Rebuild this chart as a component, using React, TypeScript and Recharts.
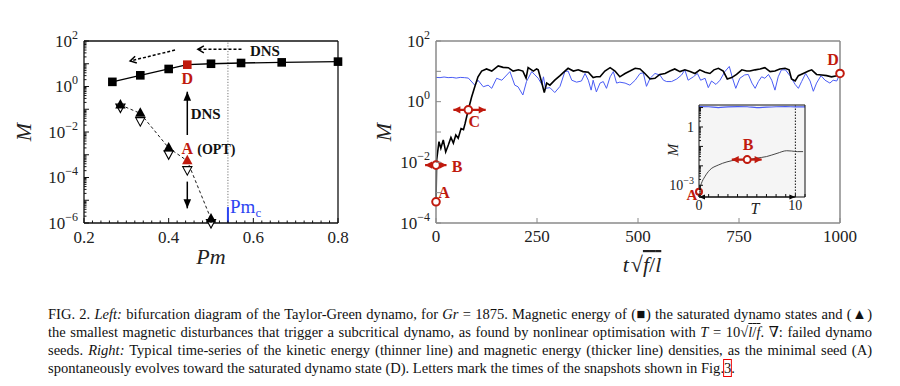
import React from 'react';
import { ComposedChart, Line, Scatter, XAxis, YAxis, ReferenceLine, ReferenceDot, CartesianGrid } from 'recharts';

const RED = '#c01a0e';
const BLUE = '#2c45f2';
const KIN_BLUE = '#4a5cf5';
const SERIF = '"Liberation Serif", "DejaVu Serif", serif';
const LEFT_FRAME = '#111';
const RIGHT_FRAME = '#8a8a8a';

// ---------- Left panel data (bifurcation diagram) ----------
const satPm = [0.267, 0.333, 0.4, 0.444, 0.5, 0.571, 0.667, 0.8];
const satM = [1.6, 3.1, 5.9, 9.1, 10, 10.8, 11.5, 12.4];
const optPm = [0.286, 0.333, 0.4, 0.444, 0.5];
const optM = [0.155, 0.066, 2.0e-3, 5.4e-4, 1.5e-6];
const failPm = [0.286, 0.333, 0.4, 0.444, 0.5];
const failM = [0.118, 0.03, 1.05e-3, 2.1e-4, 1.0e-6];
const SEED_PM = 0.444;
const PM_C = 0.54;

// ---------- Right panel data (time series) ----------
const magT = [
  0, 1.6, 7.4, 12, 18, 24, 30.5, 37, 43, 49,
  55, 62, 68, 72, 80, 88, 96, 104, 113, 125,
  138, 154, 166, 179, 191, 204, 215, 223, 228, 241,
  249, 253, 262, 268, 274, 282, 294, 307, 319, 327,
  340, 352, 364, 377, 389, 397, 406, 418, 431, 443,
  455, 468, 480, 493, 505, 517, 530, 542, 554, 567,
  579, 591, 604, 616, 629, 641, 653, 666, 678, 688,
  699, 711, 721, 732, 744, 757, 769, 777, 790, 802,
  814, 827, 839, 851, 864, 874, 880, 889, 897, 909,
  922, 930, 942, 955, 967, 979, 992, 1000,
];
const magM = [
  5.0e-4, 0.012, 0.048, 0.029, 0.055, 0.022, 0.037, 0.066, 0.043, 0.079,
  0.062, 0.13, 0.12, 0.19, 0.54, 1.4, 3.1, 6.6, 10.2, 12,
  10.2, 15, 13.5, 13.2, 10.2, 11.2, 10.2, 6.0, 13.2, 10.2,
  12, 11.2, 4.1, 2.0, 4.1, 3.5, 5.1, 7.2, 10.2, 12.6,
  10.2, 11.2, 9.8, 9.3, 6.2, 6.6, 6.6, 10.2, 13.2, 10.2,
  6.6, 8.5, 10.2, 12.6, 12, 8.5, 5.6, 5.9, 7.9, 8.5,
  10.2, 12, 9.8, 11.2, 9.8, 8.5, 11.2, 9.3, 8.5, 11.2,
  12.6, 10.2, 5.6, 6.2, 7.9, 11.2, 10.2, 10.2, 11.2, 12,
  13.2, 9.8, 10.2, 12, 12.6, 11.2, 5.6, 4.8, 7.2, 8.5,
  10.2, 11.2, 7.9, 7.6, 7.2, 6.6, 7.2, 8.5,
];
const kinT = [
  0, 10, 20, 30, 40, 50, 60, 70, 80, 96,
  104, 117, 129, 138, 150, 163, 183, 195, 203, 215,
  224, 237, 245, 253, 262, 266, 271, 282, 294, 307,
  319, 327, 336, 348, 360, 369, 377, 384, 389, 397,
  406, 414, 422, 431, 439, 447, 455, 468, 480, 493,
  505, 513, 521, 530, 542, 554, 563, 571, 583, 596,
  608, 616, 624, 637, 647, 655, 666, 674, 682, 693,
  703, 715, 726, 734, 742, 752, 764, 773, 782, 790,
  798, 806, 814, 823, 831, 839, 847, 855, 865, 876,
  889, 897, 905, 915, 926, 934, 942, 953, 963, 975,
  983, 992, 1000,
];
const kinM = [
  6.3, 6.2, 6.5, 6.2, 6.3, 6.0, 6.3, 6.2, 6.0, 3.5,
  5.1, 3.1, 3.5, 2.75, 5.9, 5.1, 9.8, 3.5, 3.1, 1.66,
  4.6, 9.8, 7.6, 5.9, 3.7, 6.6, 2.75, 2.9, 2.0, 3.2,
  9.8, 10.2, 5.1, 4.4, 4.8, 8.5, 5.1, 2.4, 5.1, 2.1,
  4.1, 4.6, 2.75, 6.6, 9.8, 4.1, 4.4, 4.1, 3.5, 5.1,
  8.5, 8.9, 3.2, 5.9, 8.5, 7.6, 5.1, 4.6, 4.6, 5.6,
  7.6, 11.2, 5.1, 6.6, 8.5, 5.1, 5.9, 2.9, 4.8, 3.7,
  5.1, 9.8, 14.5, 5.9, 2.75, 5.9, 7.6, 7.9, 4.1, 2.75,
  4.6, 6.6, 5.9, 7.9, 5.1, 2.4, 6.6, 11.2, 11.2, 7.2,
  3.7, 2.75, 4.6, 8.5, 4.8, 2.2, 4.1, 7.2, 5.1, 4.1,
  5.1, 4.8, 8.5,
];
// snapshot markers (time, M)
const snapA = { t: 0, m: 5.0e-4 };
const snapB = { t: 0, m: 8.1e-3 };
const snapC = { t: 80, m: 0.54 };
const snapD = { t: 1000, m: 8.5 };

// ---------- Inset data (optimisation window) ----------
const insetT = [0, 0.25, 0.6, 1.1, 2.0, 2.9, 3.9, 5.0, 6.0, 7.0, 8.1, 9.1, 9.6, 10.2, 10.8];
const insetMag = [4.7e-4, 1.26e-3, 2.75e-3, 6.0e-3, 0.011, 0.016, 0.02, 0.021, 0.025, 0.03, 0.044, 0.06, 0.058, 0.054, 0.054];
const insetKinT = [0, 1, 2, 3, 4, 5, 6, 7, 8, 9, 10, 11];
const insetKin = [11.2, 11.0, 10.0, 10.8, 11.2, 11.0, 9.8, 10.5, 11.0, 11.2, 10.8, 10.8];
const insetB = { t: 5.0, m: 0.021 };

// ---------- ticks ----------
const LEFT_X_TICKS = Array.from({ length: 31 }, (_, i) => +(0.2 + i * 0.02).toFixed(2));
const RIGHT_X_TICKS = [0, 250, 500, 750, 1000];
const INSET_X_TICKS = [0, 1, 2, 3, 4, 5, 6, 7, 8, 9, 10, 11];
const logTicks = (lo: number, hi: number) => {
  const out: number[] = [];
  for (let e = lo; e < hi; e++) for (let m = 1; m < 10; m++) out.push(m * Math.pow(10, e));
  out.push(Math.pow(10, hi));
  return out;
};
const decadeTicks = (lo: number, hi: number) => {
  const out: number[] = [];
  for (let e = lo; e <= hi; e++) out.push(Math.pow(10, e));
  return out;
};
const LEFT_Y_TICKS = logTicks(-6, 2);
const RIGHT_Y_TICKS = decadeTicks(-4, 2);
const INSET_Y_DOMAIN: [number, number] = [2.5e-4, 13.5];
const INSET_Y_TICKS = logTicks(-4, 1).filter((v) => v >= INSET_Y_DOMAIN[0] && v <= INSET_Y_DOMAIN[1]);

const toXY = (xs: number[], ys: number[]) => xs.map((x, i) => ({ x, y: ys[i] }));
const satData = toXY(satPm, satM);
const optData = toXY(optPm, optM);
const failData = toXY(failPm, failM);
const magData = toXY(magT, magM);
const kinData = toXY(kinT, kinM);
const insetMagData = toXY(insetT, insetMag);
const insetKinData = toXY(insetKinT, insetKin);

// ---------- helpers ----------
const isDecade = (v: number) => Math.abs(Math.log10(v) - Math.round(Math.log10(v))) < 1e-6;
const expOf = (v: number) => Math.round(Math.log10(v));
const pow10Label = (v: number, supSize: number, rise: number) => {
  const e = expOf(v);
  return [
    <tspan key="b">10</tspan>,
    <tspan key="e" dy={-rise} fontSize={supSize}>{e < 0 ? `\u2212${-e}` : `${e}`}</tspan>,
  ];
};

type Side = 'bottom' | 'top' | 'left' | 'right';
interface TickCfg {
  side: Side;
  color: string;
  majorLen: number;
  minorLen: number;
  isMajor: (v: number) => boolean;
  label?: (v: number) => any;
  fontSize?: number;
  gap?: number;
}
function makeTick(cfg: TickCfg) {
  return function Tick(props: any) {
    const { x, y, payload } = props;
    const v = payload.value as number;
    const major = cfg.isMajor(v);
    const len = major ? cfg.majorLen : cfg.minorLen;
    let x2 = x;
    let y2 = y;
    if (cfg.side === 'bottom') y2 = y - len;
    if (cfg.side === 'top') y2 = y + len;
    if (cfg.side === 'left') x2 = x + len;
    if (cfg.side === 'right') x2 = x - len;
    const lab = major && cfg.label ? cfg.label(v) : null;
    const fs = cfg.fontSize ?? 17;
    const gap = cfg.gap ?? 6;
    return (
      <g>
        <line x1={x} y1={y} x2={x2} y2={y2} stroke={cfg.color} strokeWidth={1} />
        {lab !== null && lab !== undefined &&
          (cfg.side === 'bottom' ? (
            <text x={x} y={y + gap} textAnchor="middle" fontFamily={SERIF} fontSize={fs} fill="#222">{lab}</text>
          ) : (
            <text x={x - gap} y={y + fs * 0.33} textAnchor="end" fontFamily={SERIF} fontSize={fs} fill="#222">{lab}</text>
          ))}
      </g>
    );
  };
}

const headPts = (x1: number, y1: number, x2: number, y2: number, L: number, W: number) => {
  const dx = x2 - x1;
  const dy = y2 - y1;
  const len = Math.hypot(dx, dy) || 1;
  const ux = dx / len;
  const uy = dy / len;
  const bx = x2 - ux * L;
  const by = y2 - uy * L;
  const px = -uy * W;
  const py = ux * W;
  return { tip: [x2, y2], a: [bx + px, by + py], b: [bx - px, by - py] };
};
interface ArrowCfg { color: string; width: number; L: number; W: number; start?: boolean; end?: boolean; dash?: string; open?: boolean; }
function makeArrow(cfg: ArrowCfg) {
  return function ArrowShape(p: any) {
    const x1 = Number(p.x1), y1 = Number(p.y1), x2 = Number(p.x2), y2 = Number(p.y2);
    const heads: any[] = [];
    const addHead = (ax: number, ay: number, bx: number, by: number, k: string) => {
      const h = headPts(ax, ay, bx, by, cfg.L, cfg.W);
      if (cfg.open) {
        heads.push(
          <polyline key={k} points={`${h.a[0]},${h.a[1]} ${h.tip[0]},${h.tip[1]} ${h.b[0]},${h.b[1]}`} fill="none" stroke={cfg.color} strokeWidth={cfg.width} />
        );
      } else {
        heads.push(
          <polygon key={k} points={`${h.tip[0]},${h.tip[1]} ${h.a[0]},${h.a[1]} ${h.b[0]},${h.b[1]}`} fill={cfg.color} />
        );
      }
    };
    if (cfg.end) addHead(x1, y1, x2, y2, 'e');
    if (cfg.start) addHead(x2, y2, x1, y1, 's');
    return (
      <g>
        <line x1={x1} y1={y1} x2={x2} y2={y2} stroke={cfg.color} strokeWidth={cfg.width} strokeDasharray={cfg.dash} />
        {heads}
      </g>
    );
  };
}

const textShape = (content: any, dx: number, dy: number, opts: any = {}) =>
  function TextShape(p: any) {
    return (
      <text x={p.cx + dx} y={p.cy + dy} fontFamily={SERIF} textAnchor={opts.anchor ?? 'middle'} fontSize={opts.size ?? 15}
        fontWeight={opts.weight ?? 'bold'} fill={opts.color ?? RED}>
        {content}
      </text>
    );
  };

const ringShape = (r: number) =>
  function Ring(p: any) {
    return <circle cx={p.cx} cy={p.cy} r={r} fill="#fff" stroke={RED} strokeWidth={2} />;
  };

// markers
const squareDot = (p: any) => {
  const { cx, cy, payload, index } = p;
  if (cx == null || cy == null) return <g key={index} />;
  const red = payload && payload.x === SEED_PM;
  return <rect key={index} x={cx - 4.3} y={cy - 4.3} width={8.6} height={8.6} fill={red ? RED : '#000'} />;
};
const upTriangle = (p: any) => {
  const { cx, cy, payload } = p;
  const red = payload && payload.x === SEED_PM;
  return <polygon points={`${cx},${cy - 6} ${cx - 5.2},${cy + 3.5} ${cx + 5.2},${cy + 3.5}`} fill={red ? RED : '#000'} />;
};
const downTriangle = (p: any) => {
  const { cx, cy } = p;
  return <polygon points={`${cx - 4.6},${cy - 3.5} ${cx + 4.6},${cy - 3.5} ${cx},${cy + 5}`} fill="#fff" stroke="#000" strokeWidth={1.1} />;
};

// ---------- Left panel ----------
const leftAx = { xAxisId: 'b', yAxisId: 'l' } as const;
const LeftPanel = () => (
  <ComposedChart width={370} height={290} margin={{ top: 40, right: 31, bottom: 66, left: 83 }} style={{ position: 'absolute', left: 0, top: 0 }}>
    <XAxis xAxisId="b" dataKey="x" type="number" domain={[0.2, 0.8]} ticks={LEFT_X_TICKS} interval={0} height={1}
      tickSize={0} tickMargin={0} tickLine={false} axisLine={{ stroke: LEFT_FRAME, strokeWidth: 1.3 }}
      tick={makeTick({ side: 'bottom', color: LEFT_FRAME, majorLen: 5, minorLen: 2.5, isMajor: (v) => Math.abs(v / 0.2 - Math.round(v / 0.2)) < 1e-6, label: (v) => v.toFixed(1), gap: 20 })}
      label={(lp: any) => {
        const vb = lp.viewBox;
        return <text x={vb.x + vb.width / 2} y={vb.y + 41} textAnchor="middle" fontFamily={SERIF} fontStyle="italic" fontSize={22} fill="#222">Pm</text>;
      }} />
    <XAxis xAxisId="t" orientation="top" dataKey="x" type="number" domain={[0.2, 0.8]} ticks={LEFT_X_TICKS} interval={0} height={1}
      tickSize={0} tickMargin={0} tickLine={false} axisLine={{ stroke: LEFT_FRAME, strokeWidth: 1.3 }}
      tick={makeTick({ side: 'top', color: LEFT_FRAME, majorLen: 5, minorLen: 2.5, isMajor: (v) => Math.abs(v / 0.2 - Math.round(v / 0.2)) < 1e-6 })} />
    <YAxis yAxisId="l" dataKey="y" type="number" scale="log" domain={[1e-6, 100]} ticks={LEFT_Y_TICKS} interval={0} width={1}
      tickSize={0} tickMargin={0} tickLine={false} axisLine={{ stroke: LEFT_FRAME, strokeWidth: 1.3 }}
      tick={makeTick({ side: 'left', color: LEFT_FRAME, majorLen: 5, minorLen: 2.5, isMajor: isDecade, label: (v) => (expOf(v) % 2 === 0 ? pow10Label(v, 12, 8) : null), gap: 6 })}
      label={(lp: any) => {
        const vb = lp.viewBox;
        const cx = 23;
        const cy = vb.y + vb.height / 2;
        return <text x={cx} y={cy} transform={`rotate(-90 ${cx} ${cy})`} textAnchor="middle" dominantBaseline="central" fontFamily={SERIF} fontStyle="italic" fontSize={22} fill="#222">M</text>;
      }} />
    <YAxis yAxisId="r" orientation="right" dataKey="y" type="number" scale="log" domain={[1e-6, 100]} ticks={LEFT_Y_TICKS} interval={0} width={1}
      tickSize={0} tickMargin={0} tickLine={false} axisLine={{ stroke: LEFT_FRAME, strokeWidth: 1.3 }}
      tick={makeTick({ side: 'right', color: LEFT_FRAME, majorLen: 5, minorLen: 2.5, isMajor: isDecade })} />

    <ReferenceLine {...leftAx} x={PM_C} stroke="#777" strokeWidth={1} strokeDasharray="1.2 1.6" />
    <ReferenceLine {...leftAx} segment={[{ x: PM_C, y: 5e-6 }, { x: PM_C, y: 1e-6 }]} stroke={BLUE} strokeWidth={2} />
    <ReferenceDot {...leftAx} x={0.545} y={5.0e-6} r={0} ifOverflow="visible"
      shape={(p: any) => (
        <text x={p.cx} y={p.cy + 6} fontFamily={SERIF} fontSize={19} fill={BLUE}>
          Pm<tspan dy={4} fontSize={13}>c</tspan>
        </text>
      )} />

    <Line {...leftAx} data={optData} dataKey="y" stroke="#000" strokeWidth={0.9} strokeDasharray="3 2.5" dot={false} isAnimationActive={false} />
    <Line {...leftAx} data={satData} dataKey="y" stroke="#000" strokeWidth={1.3} dot={squareDot} isAnimationActive={false} />
    <Scatter {...leftAx} data={failData} shape={downTriangle} isAnimationActive={false} />
    <Scatter {...leftAx} data={optData} shape={upTriangle} isAnimationActive={false} />

    <ReferenceLine {...leftAx} segment={[{ x: SEED_PM, y: 7.4e-3 }, { x: SEED_PM, y: 0.59 }]} ifOverflow="visible"
      shape={makeArrow({ color: '#000', width: 1.5, L: 9, W: 3.8, end: true })} />
    <ReferenceLine {...leftAx} segment={[{ x: SEED_PM, y: 6.6e-5 }, { x: SEED_PM, y: 4.4e-6 }]} ifOverflow="visible"
      shape={makeArrow({ color: '#000', width: 1.5, L: 9, W: 3.8, end: true })} />
    <ReferenceLine {...leftAx} segment={[{ x: 0.572, y: 43 }, { x: 0.469, y: 43 }]} ifOverflow="visible"
      shape={makeArrow({ color: '#000', width: 1.5, L: 6, W: 3.5, end: true, dash: '3 2', open: true })} />
    <ReferenceLine {...leftAx} segment={[{ x: 0.415, y: 40 }, { x: 0.309, y: 13.2 }]} ifOverflow="visible"
      shape={makeArrow({ color: '#000', width: 1.5, L: 6, W: 3.5, end: true, dash: '3 2', open: true })} />

    <ReferenceDot {...leftAx} x={0.592} y={37} r={0} ifOverflow="visible" shape={textShape('DNS', 0, 5, { anchor: 'start', color: '#111', size: 15 })} />
    <ReferenceDot {...leftAx} x={0.452} y={0.06} r={0} ifOverflow="visible" shape={textShape('DNS', 0, 5, { anchor: 'start', color: '#111', size: 15 })} />
    <ReferenceDot {...leftAx} x={SEED_PM} y={2.3} r={0} ifOverflow="visible" shape={textShape('D', 0, 6, { size: 16 })} />
    <ReferenceDot {...leftAx} x={SEED_PM} y={1.9e-3} r={0} ifOverflow="visible" shape={textShape('A', 0, 6, { size: 16 })} />
    <ReferenceDot {...leftAx} x={SEED_PM} y={1.9e-3} r={0} ifOverflow="visible" shape={textShape('(OPT)', 10, 6, { anchor: 'start', color: '#111', size: 14 })} />
  </ComposedChart>
);

// ---------- Right panel ----------
const rAx = { xAxisId: 'b', yAxisId: 'l' } as const;
const redDouble = makeArrow({ color: RED, width: 2.2, L: 7, W: 3.6, start: true, end: true });
const RightPanel = () => (
  <ComposedChart width={500} height={290} margin={{ top: 40, right: 29, bottom: 66, left: 65 }} style={{ position: 'absolute', left: 370, top: 0 }}>
    <XAxis xAxisId="b" dataKey="x" type="number" domain={[0, 1000]} ticks={RIGHT_X_TICKS} interval={0} height={1}
      tickSize={0} tickMargin={0} tickLine={false} axisLine={{ stroke: RIGHT_FRAME, strokeWidth: 1.5 }}
      tick={makeTick({ side: 'bottom', color: RIGHT_FRAME, majorLen: 5, minorLen: 3, isMajor: () => true, label: (v) => `${v}`, gap: 19 })}
      label={(lp: any) => {
        const vb = lp.viewBox;
        return (
          <text x={vb.x + vb.width / 2 + 4} y={vb.y + 49} textAnchor="middle" fontFamily={SERIF} fontSize={22} fill="#222">
            <tspan fontStyle="italic">t</tspan>
            <tspan dx={2}>{'\u221A'}</tspan>
            <tspan style={{ textDecoration: 'overline' }}>
              <tspan fontStyle="italic">f</tspan>/<tspan fontStyle="italic">l</tspan>
            </tspan>
          </text>
        );
      }} />
    <XAxis xAxisId="t" orientation="top" dataKey="x" type="number" domain={[0, 1000]} ticks={RIGHT_X_TICKS} interval={0} height={1}
      tickSize={0} tickMargin={0} tickLine={false} axisLine={{ stroke: RIGHT_FRAME, strokeWidth: 1.5 }}
      tick={makeTick({ side: 'top', color: RIGHT_FRAME, majorLen: 5, minorLen: 3, isMajor: () => true })} />
    <YAxis yAxisId="l" dataKey="y" type="number" scale="log" domain={[1e-4, 100]} ticks={RIGHT_Y_TICKS} interval={0} width={1}
      tickSize={0} tickMargin={0} tickLine={false} axisLine={{ stroke: RIGHT_FRAME, strokeWidth: 1.5 }}
      tick={makeTick({ side: 'left', color: RIGHT_FRAME, majorLen: 5, minorLen: 5, isMajor: () => true, label: (v) => (expOf(v) % 2 === 0 ? pow10Label(v, 12, 8) : null), gap: 6 })}
      label={(lp: any) => {
        const vb = lp.viewBox;
        const cx = 13;
        const cy = vb.y + vb.height / 2;
        return <text x={cx} y={cy} transform={`rotate(-90 ${cx} ${cy})`} textAnchor="middle" dominantBaseline="central" fontFamily={SERIF} fontStyle="italic" fontSize={22} fill="#222">M</text>;
      }} />
    <YAxis yAxisId="r" orientation="right" dataKey="y" type="number" scale="log" domain={[1e-4, 100]} ticks={RIGHT_Y_TICKS} interval={0} width={1}
      tickSize={0} tickMargin={0} tickLine={false} axisLine={{ stroke: RIGHT_FRAME, strokeWidth: 1.5 }}
      tick={makeTick({ side: 'right', color: RIGHT_FRAME, majorLen: 5, minorLen: 5, isMajor: () => true })} />

    <Line {...rAx} data={kinData} dataKey="y" stroke={KIN_BLUE} strokeWidth={1} dot={false} isAnimationActive={false} />
    <Line {...rAx} data={magData} dataKey="y" stroke="#000" strokeWidth={1.6} dot={false} isAnimationActive={false} />

    <ReferenceLine {...rAx} segment={[{ x: -27, y: snapB.m }, { x: 26, y: snapB.m }]} ifOverflow="visible" shape={redDouble} />
    <ReferenceLine {...rAx} segment={[{ x: 43, y: snapC.m }, { x: 123, y: snapC.m }]} ifOverflow="visible" shape={redDouble} />
    <ReferenceDot {...rAx} x={snapA.t} y={snapA.m} r={3.8} ifOverflow="visible" shape={ringShape(3.8)} />
    <ReferenceDot {...rAx} x={snapB.t} y={snapB.m} r={3.8} ifOverflow="visible" shape={ringShape(3.8)} />
    <ReferenceDot {...rAx} x={snapC.t} y={snapC.m} r={3.8} ifOverflow="visible" shape={ringShape(3.8)} />
    <ReferenceDot {...rAx} x={snapD.t} y={snapD.m} r={3.8} ifOverflow="visible" shape={ringShape(3.8)} />
    <ReferenceDot {...rAx} x={snapA.t} y={snapA.m} r={0} ifOverflow="visible" shape={textShape('A', 8, -4, { size: 16 })} />
    <ReferenceDot {...rAx} x={snapB.t} y={snapB.m} r={0} ifOverflow="visible" shape={textShape('B', 21, 7, { size: 16 })} />
    <ReferenceDot {...rAx} x={snapC.t} y={snapC.m} r={0} ifOverflow="visible" shape={textShape('C', 6, 17, { size: 16 })} />
    <ReferenceDot {...rAx} x={snapD.t} y={snapD.m} r={0} ifOverflow="visible" shape={textShape('D', -7, -8, { size: 16 })} />
  </ComposedChart>
);

// ---------- Inset ----------
const iAx = { xAxisId: 'b', yAxisId: 'l' } as const;
const InsetPanel = () => (
  <ComposedChart width={180} height={140} margin={{ top: 14, right: 14, bottom: 32, left: 58 }} style={{ position: 'absolute', left: 640, top: 90 }}>
    <CartesianGrid {...iAx} horizontal={false} vertical={false} fill="#f5f5f5" />
    <XAxis xAxisId="b" dataKey="x" type="number" domain={[0, 11]} ticks={INSET_X_TICKS} interval={0} height={1}
      tickSize={0} tickMargin={0} tickLine={false} axisLine={{ stroke: '#111', strokeWidth: 1 }}
      tick={makeTick({ side: 'bottom', color: '#111', majorLen: 3, minorLen: 3, isMajor: () => true, label: (v) => (v === 0 || v === 10 ? `${v}` : null), fontSize: 14, gap: 13 })}
      label={(lp: any) => {
        const vb = lp.viewBox;
        return <text x={vb.x + 56} y={vb.y + 17} textAnchor="middle" fontFamily={SERIF} fontStyle="italic" fontSize={16} fill="#222">T</text>;
      }} />
    <XAxis xAxisId="t" orientation="top" dataKey="x" type="number" domain={[0, 11]} ticks={INSET_X_TICKS} interval={0} height={1}
      tickSize={0} tickMargin={0} tickLine={false} axisLine={{ stroke: '#111', strokeWidth: 1 }}
      tick={makeTick({ side: 'top', color: '#111', majorLen: 3, minorLen: 3, isMajor: () => true })} />
    <YAxis yAxisId="l" dataKey="y" type="number" scale="log" domain={INSET_Y_DOMAIN} ticks={INSET_Y_TICKS} interval={0} width={1}
      tickSize={0} tickMargin={0} tickLine={false} axisLine={{ stroke: '#111', strokeWidth: 1 }}
      tick={makeTick({ side: 'left', color: '#111', majorLen: 4, minorLen: 2, isMajor: isDecade, label: (v) => (expOf(v) === 0 ? '1' : expOf(v) === -3 ? pow10Label(v, 10, 6) : null), fontSize: 14, gap: 5 })}
      label={(lp: any) => {
        const vb = lp.viewBox;
        const cx = 33;
        const cy = vb.y + 45;
        return <text x={cx} y={cy} transform={`rotate(-90 ${cx} ${cy})`} textAnchor="middle" dominantBaseline="central" fontFamily={SERIF} fontStyle="italic" fontSize={15} fill="#222">M</text>;
      }} />
    <YAxis yAxisId="r" orientation="right" dataKey="y" type="number" scale="log" domain={INSET_Y_DOMAIN} ticks={INSET_Y_TICKS} interval={0} width={1}
      tickSize={0} tickMargin={0} tickLine={false} axisLine={{ stroke: '#111', strokeWidth: 1 }}
      tick={makeTick({ side: 'right', color: '#111', majorLen: 4, minorLen: 2, isMajor: isDecade })} />

    <ReferenceLine {...iAx} x={10} stroke="#111" strokeWidth={1} strokeDasharray="1.5 1.5" />
    <Line {...iAx} data={insetKinData} dataKey="y" stroke={KIN_BLUE} strokeWidth={1.2} dot={false} type="monotone" isAnimationActive={false} />
    <Line {...iAx} data={insetMagData} dataKey="y" stroke="#333" strokeWidth={0.9} dot={false} type="monotone" isAnimationActive={false} />
    <ReferenceLine {...iAx} segment={[{ x: 0, y: INSET_Y_DOMAIN[0] }, { x: 10, y: INSET_Y_DOMAIN[0] }]} ifOverflow="visible"
      shape={makeArrow({ color: '#000', width: 1, L: 6, W: 2.6, start: true, end: true })} />
    <ReferenceLine {...iAx} segment={[{ x: 3.4, y: insetB.m }, { x: 6.5, y: insetB.m }]} ifOverflow="visible" shape={redDouble} />
    <ReferenceDot {...iAx} x={insetB.t} y={insetB.m} r={3.5} ifOverflow="visible" shape={ringShape(3.5)} />
    <ReferenceDot {...iAx} x={insetT[0]} y={insetMag[0]} r={3} ifOverflow="visible" shape={ringShape(3)} />
    <ReferenceDot {...iAx} x={insetB.t} y={insetB.m} r={0} ifOverflow="visible" shape={textShape('B', 1, -10, { size: 16 })} />
    <ReferenceDot {...iAx} x={insetT[0]} y={insetMag[0]} r={0} ifOverflow="visible" shape={textShape('A', -7, 8, { size: 15 })} />
  </ComposedChart>
);

// ---------- Caption ----------
const CAP_SCALE = 0.97;
const capLine: React.CSSProperties = { textAlign: 'justify', textAlignLast: 'justify', whiteSpace: 'nowrap', height: 18 };
const Caption = () => (
  <div style={{ position: 'absolute', left: 48, top: 305, width: 824 / CAP_SCALE, transform: `scaleX(${CAP_SCALE})`, transformOrigin: '0 0', fontFamily: SERIF, fontSize: 15, lineHeight: '18px', color: '#111' }}>
    <div style={capLine}>
      FIG. 2. <i>Left:</i> bifurcation diagram of the Taylor-Green dynamo, for <i>Gr</i> = 1875. Magnetic energy of ({'\u25A0'}) the saturated dynamo states and ({'\u25B2'})
    </div>
    <div style={capLine}>
      the smallest magnetic disturbances that trigger a subcritical dynamo, as found by nonlinear optimisation with <i>T</i> = 10{'\u221A'}<span style={{ textDecoration: 'overline' }}><i>l</i>/<i>f</i></span>. {'\u2207'}: failed dynamo
    </div>
    <div style={capLine}>
      seeds. <i>Right:</i> Typical time-series of the kinetic energy (thinner line) and magnetic energy (thicker line) densities, as the minimal seed (A)
    </div>
    <div style={{ height: 18, whiteSpace: 'nowrap' }}>
      spontaneously evolves toward the saturated dynamo state (D). Letters mark the times of the snapshots shown in Fig.<span style={{ outline: '1px solid #e00', outlineOffset: 0 }}>3</span>.
    </div>
  </div>
);

export default function App() {
  return (
    <div style={{ position: 'absolute', left: 0, top: 0, width: 900, height: 386, background: '#fff', overflow: 'hidden' }}>
      <LeftPanel />
      <RightPanel />
      <InsetPanel />
      <Caption />
    </div>
  );
}
